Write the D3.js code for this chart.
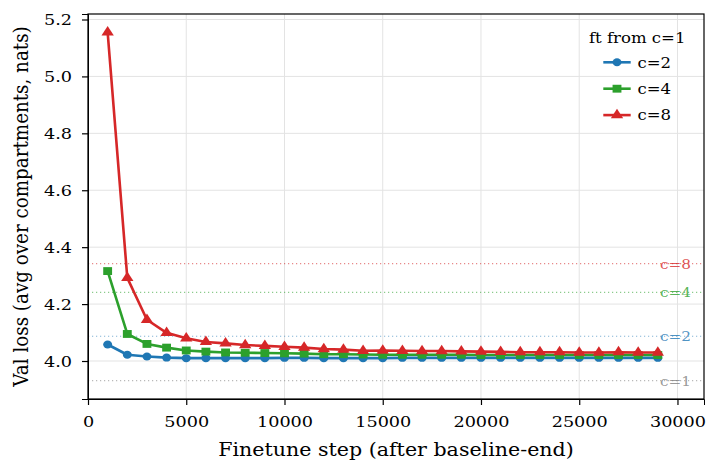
<!DOCTYPE html>
<html>
<head>
<meta charset="utf-8">
<script src="https://cdn.jsdelivr.net/npm/d3@7"></script>
<style>
  body { margin: 0; background: #fff; }
  text { font-family: "DejaVu Serif", serif; }
  .grid line { stroke: #e3e3e3; stroke-width: 1; }
  .axis path, .axis line { stroke: #000; }
</style>
</head>
<body>
<svg id="chart" width="706" height="466"></svg>
<script>
// finetune steps
var steps = [1000, 2000, 3000, 4000, 5000, 6000, 7000, 8000, 9000, 10000,
  11000, 12000, 13000, 14000, 15000, 16000, 17000, 18000, 19000, 20000,
  21000, 22000, 23000, 24000, 25000, 26000, 27000, 28000, 29000];

var lossC2 = [4.058, 4.022, 4.016, 4.012, 4.010, 4.010, 4.010, 4.010, 4.010, 4.011,
  4.011, 4.010, 4.010, 4.010, 4.010, 4.011, 4.011, 4.011, 4.011, 4.011,
  4.011, 4.011, 4.011, 4.011, 4.011, 4.011, 4.011, 4.011, 4.011];
var lossC4 = [4.316, 4.095, 4.060, 4.047, 4.037, 4.033, 4.030, 4.029, 4.028, 4.027,
  4.026, 4.024, 4.024, 4.023, 4.022, 4.022, 4.022, 4.022, 4.022, 4.021,
  4.021, 4.021, 4.021, 4.021, 4.021, 4.021, 4.021, 4.021, 4.021];
var lossC8 = [5.155, 4.292, 4.145, 4.099, 4.080, 4.067, 4.062, 4.056, 4.053, 4.050,
  4.047, 4.042, 4.040, 4.036, 4.037, 4.036, 4.035, 4.035, 4.034, 4.033,
  4.032, 4.031, 4.031, 4.031, 4.030, 4.030, 4.031, 4.030, 4.030];

// reference loss of the untouched c runs
var refNames = ["c=8", "c=4", "c=2", "c=1"];
var refLoss = [4.342, 4.241, 4.087, 3.931];
var refColors = ["#d62728", "#2ca02c", "#1f77b4", "#7f7f7f"];

var seriesNames = ["c=2", "c=4", "c=8"];
var seriesColors = ["#1f77b4", "#2ca02c", "#d62728"];
var seriesMarkers = ["circle", "square", "triangle"];
var seriesData = [lossC2, lossC4, lossC8];

var xTicks = [0, 5000, 10000, 15000, 20000, 25000, 30000];
var yTicks = [4.0, 4.2, 4.4, 4.6, 4.8, 5.0, 5.2];

// the picture is a bit wider than tall, text is stretched the same way
var sx = 1.125;

var margin = {left: 88, right: 2, top: 14, bottom: 67};
var width = 706, height = 466;
var svg = d3.select("#chart");

var x = d3.scaleLinear().domain([0, 31350]).range([margin.left, width - margin.right]);
var y = d3.scaleLinear().domain([3.8665, 5.2193]).range([height - margin.bottom, margin.top]);

// grid
var grid = svg.append("g").attr("class", "grid");
grid.selectAll(".gx").data(xTicks).enter().append("line")
  .attr("x1", d => x(d)).attr("x2", d => x(d))
  .attr("y1", y.range()[0]).attr("y2", y.range()[1]);
grid.selectAll(".gy").data(yTicks).enter().append("line")
  .attr("x1", x.range()[0]).attr("x2", x.range()[1])
  .attr("y1", d => y(d)).attr("y2", d => y(d));

// reference lines + labels
var refs = svg.append("g");
refLoss.forEach(function(v, i) {
  refs.append("line")
    .attr("x1", x.range()[0]).attr("x2", x.range()[1])
    .attr("y1", y(v)).attr("y2", y(v))
    .attr("stroke", refColors[i]).attr("stroke-opacity", 0.55)
    .attr("stroke-width", 1.2).attr("stroke-dasharray", "1.2,2.8");
  refs.append("text")
    .attr("transform", "translate(" + 691 + "," + y(v) + ") scale(" + sx + ",1)")
    .attr("dy", "0.36em").attr("text-anchor", "end")
    .attr("font-size", 13.6).attr("fill", refColors[i]).attr("fill-opacity", 0.8)
    .text(refNames[i]);
});

var symbols = {circle: d3.symbolCircle, square: d3.symbolSquare, triangle: d3.symbolTriangle};
var symSize = {circle: 50, square: 62, triangle: 52};

var line = d3.line().x(d => x(d[0])).y(d => y(d[1]));

seriesData.forEach(function(vals, i) {
  var pts = steps.map((s, j) => [s, vals[j]]);
  var g = svg.append("g");
  g.append("path").datum(pts)
    .attr("d", line).attr("fill", "none")
    .attr("stroke", seriesColors[i]).attr("stroke-width", 2.6)
    .attr("stroke-linejoin", "round");
  g.selectAll("path.m").data(pts).enter().append("path")
    .attr("class", "m")
    .attr("transform", d => "translate(" + x(d[0]) + "," + y(d[1]) + ") scale(" + sx + ",1)")
    .attr("d", d3.symbol().type(symbols[seriesMarkers[i]]).size(symSize[seriesMarkers[i]]))
    .attr("fill", seriesColors[i]);
});

// axes
var xAxis = svg.append("g").attr("class", "axis")
  .attr("transform", "translate(0," + y.range()[0] + ")")
  .call(d3.axisBottom(x).tickValues(xTicks).tickFormat(d3.format("d")).tickSizeOuter(0).tickSize(6).tickPadding(11));
var yAxis = svg.append("g").attr("class", "axis")
  .attr("transform", "translate(" + x.range()[0] + ",0)")
  .call(d3.axisLeft(y).tickValues(yTicks).tickFormat(d3.format(".1f")).tickSizeOuter(0).tickSize(6).tickPadding(10));
svg.selectAll(".axis text")
  .attr("font-family", "DejaVu Serif").attr("font-size", 15.7).attr("fill", "#000");
xAxis.selectAll("text").attr("transform", "scale(" + sx + ",1)");
yAxis.selectAll("text").attr("x", -16 / sx).attr("transform", "scale(" + sx + ",1)");
svg.selectAll(".axis .tick line").attr("stroke-width", 1.2);

// frame
svg.append("rect")
  .attr("x", x.range()[0]).attr("y", y.range()[1])
  .attr("width", x.range()[1] - x.range()[0]).attr("height", y.range()[0] - y.range()[1])
  .attr("fill", "none").attr("stroke", "#000").attr("stroke-width", 1.2);

// labels
svg.append("text")
  .attr("transform", "translate(" + ((x.range()[0] + x.range()[1]) / 2) + ",456) scale(" + sx + ",1)")
  .attr("text-anchor", "middle").attr("font-size", 18.3)
  .text("Finetune step (after baseline-end)");
svg.append("text")
  .attr("transform", "translate(28," + ((y.range()[0] + y.range()[1]) / 2) + ") scale(" + sx + ",1) rotate(-90)")
  .attr("text-anchor", "middle").attr("font-size", 18.3)
  .text("Val loss (avg over compartments, nats)");

// legend
var leg = svg.append("g").attr("transform", "translate(589,42.5)");
leg.append("text").attr("transform", "scale(" + sx + ",1)").attr("font-size", 14.7).text("ft from c=1");
seriesNames.forEach(function(n, i) {
  var yy = 19.8 + i * 26.4;
  leg.append("line").attr("x1", 14.3).attr("x2", 41.7).attr("y1", yy).attr("y2", yy)
    .attr("stroke", seriesColors[i]).attr("stroke-width", 2.6);
  leg.append("path").attr("transform", "translate(28," + yy + ") scale(" + sx + ",1)")
    .attr("d", d3.symbol().type(symbols[seriesMarkers[i]]).size(symSize[seriesMarkers[i]]))
    .attr("fill", seriesColors[i]);
  leg.append("text").attr("transform", "translate(48.5," + yy + ") scale(" + sx + ",1)")
    .attr("dy", "0.36em").attr("font-size", 14.7).text(n);
});
</script>
</body>
</html>
